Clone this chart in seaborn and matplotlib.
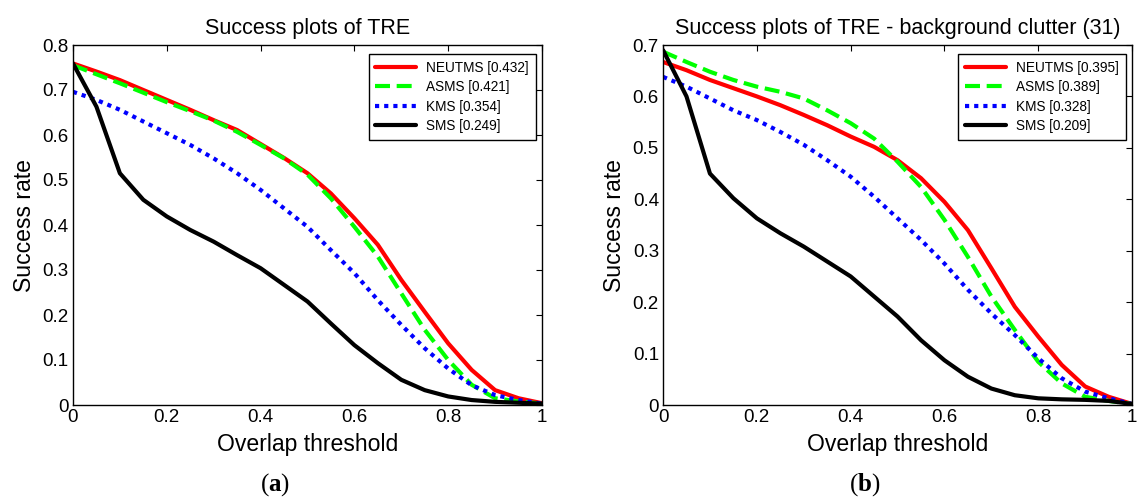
import numpy as np
import pandas as pd
import matplotlib
matplotlib.use("Agg")
import matplotlib.pyplot as plt
import seaborn as sns
from matplotlib.ticker import FormatStrFormatter

# Umbrales de solapamiento (eje x)
thresholds = [0.0, 0.05, 0.1, 0.15, 0.2, 0.25, 0.3, 0.35, 0.4, 0.45, 0.5,
              0.55, 0.6, 0.65, 0.7, 0.75, 0.8, 0.85, 0.9, 0.95, 1.0]

# Panel (a): TRE
tre_neutms = [0.759, 0.741, 0.722, 0.700, 0.678, 0.656, 0.633, 0.611, 0.580, 0.549, 0.515,
              0.470, 0.415, 0.356, 0.278, 0.207, 0.137, 0.078, 0.033, 0.015, 0.004]
tre_asms = [0.755, 0.735, 0.715, 0.694, 0.673, 0.653, 0.632, 0.607, 0.578, 0.548, 0.512,
            0.459, 0.396, 0.330, 0.248, 0.167, 0.100, 0.045, 0.015, 0.008, 0.003]
tre_kms = [0.696, 0.678, 0.656, 0.630, 0.604, 0.578, 0.548, 0.515, 0.478, 0.437, 0.396,
           0.344, 0.293, 0.233, 0.178, 0.126, 0.081, 0.044, 0.022, 0.011, 0.003]
tre_sms = [0.759, 0.663, 0.515, 0.456, 0.419, 0.389, 0.363, 0.333, 0.304, 0.267, 0.230,
           0.181, 0.133, 0.093, 0.056, 0.033, 0.019, 0.011, 0.007, 0.005, 0.003]

# Panel (b): TRE - background clutter (31)
bc_neutms = [0.667, 0.651, 0.632, 0.616, 0.600, 0.583, 0.564, 0.544, 0.522, 0.502, 0.476,
             0.441, 0.395, 0.340, 0.266, 0.191, 0.133, 0.078, 0.036, 0.016, 0.002]
bc_asms = [0.687, 0.667, 0.648, 0.632, 0.619, 0.609, 0.596, 0.573, 0.548, 0.518, 0.473,
           0.424, 0.360, 0.288, 0.211, 0.146, 0.084, 0.042, 0.016, 0.008, 0.002]
bc_kms = [0.638, 0.619, 0.596, 0.573, 0.554, 0.531, 0.506, 0.476, 0.444, 0.405, 0.363,
          0.321, 0.275, 0.224, 0.178, 0.136, 0.091, 0.052, 0.026, 0.013, 0.002]
bc_sms = [0.690, 0.600, 0.450, 0.402, 0.363, 0.334, 0.308, 0.279, 0.250, 0.211, 0.172,
          0.126, 0.087, 0.055, 0.032, 0.019, 0.013, 0.011, 0.010, 0.008, 0.002]

trackers = ['NEUTMS', 'ASMS', 'KMS', 'SMS']
scores_tre = ['0.432', '0.421', '0.354', '0.249']
scores_bc = ['0.395', '0.389', '0.328', '0.209']

colores = {'NEUTMS': '#ff0000', 'ASMS': '#00ff00', 'KMS': '#0000ff', 'SMS': '#000000'}
trazos = {'NEUTMS': None, 'ASMS': (3.6, 1.6), 'KMS': (1.0, 1.2), 'SMS': None}

sns.set_style("white")
plt.rcParams['font.family'] = ['Liberation Sans', 'DejaVu Sans']
plt.rcParams['text.color'] = 'black'
plt.rcParams['axes.labelcolor'] = 'black'
plt.rcParams['mathtext.fontset'] = 'custom'
plt.rcParams['mathtext.rm'] = 'Liberation Serif'
plt.rcParams['mathtext.bf'] = 'Liberation Serif:bold'


def panel(ax, series, scores, title, ymax):
    for name, vals, sc in zip(trackers, series, scores):
        sns.lineplot(x=thresholds, y=vals, ax=ax, color=colores[name], linewidth=3,
                     label=f'{name} [{sc}]')
        ln = ax.get_lines()[-1]
        if trazos[name] is not None:
            ln.set_dashes(trazos[name])
            ln.set_dash_capstyle('butt')

    ax.set_xlim(0, 1)
    ax.set_ylim(0, ymax)
    ax.set_xticks(np.arange(0, 1.01, 0.2))
    ax.set_yticks(np.arange(0, ymax + 0.001, 0.1))
    ax.xaxis.set_major_formatter(FormatStrFormatter('%g'))
    ax.yaxis.set_major_formatter(FormatStrFormatter('%g'))
    ax.tick_params(direction='in', length=4, width=0.8, top=True, right=True,
                   labelsize=13.5, pad=3, colors='black')
    for s in ax.spines.values():
        s.set_visible(True)
        s.set_color('black')
        s.set_linewidth(1.0)

    ax.set_title(title, fontsize=15.5, pad=8)
    ax.set_xlabel('Overlap threshold', fontsize=16.6, labelpad=5)
    ax.set_ylabel('Success rate', fontsize=16.6, labelpad=5)

    leg = ax.legend(loc='upper right', bbox_to_anchor=(0.987, 0.975), borderaxespad=0,
                    fontsize=9.8, handlelength=3.0, handletextpad=0.75, borderpad=0.5,
                    labelspacing=0.4, fancybox=False, framealpha=1, edgecolor='black')
    leg.get_frame().set_linewidth(1.0)


fig = plt.figure(figsize=(11.42, 5.0), dpi=100)
ax1 = fig.add_axes([0.0639, 0.19, 0.4107, 0.72])
ax2 = fig.add_axes([0.5806, 0.19, 0.4107, 0.72])

panel(ax1, [tre_neutms, tre_asms, tre_kms, tre_sms], scores_tre,
      'Success plots of TRE', 0.8)
panel(ax2, [bc_neutms, bc_asms, bc_kms, bc_sms], scores_bc,
      'Success plots of TRE - background clutter (31)', 0.7)

# Letras de los subpaneles
fig.text(0.2408, 0.03, r'$\mathrm{(}\mathbf{a}\mathrm{)}$', ha='center', va='center', fontsize=18)
fig.text(0.7574, 0.03, r'$\mathrm{(}\mathbf{b}\mathrm{)}$', ha='center', va='center', fontsize=18)

fig.savefig('out.png', dpi=100, facecolor='white')
